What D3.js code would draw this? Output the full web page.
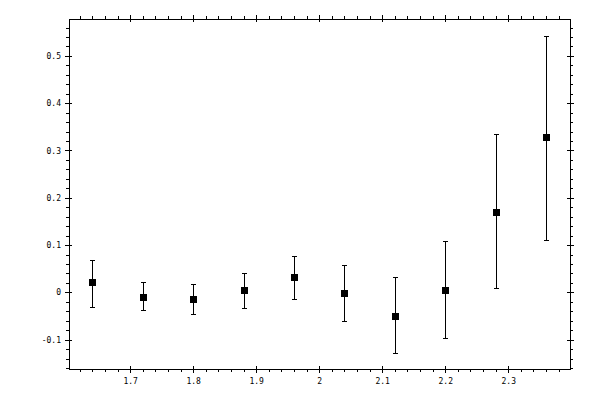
<!DOCTYPE html>
<html>
<head>
<meta charset="utf-8">
<script src="https://cdn.jsdelivr.net/npm/d3@7"></script>
<style>
  body { margin: 0; background: #fff; }
  svg { display: block; }
  .tick text { font-family: "DejaVu Sans Mono", monospace; font-size: 8px; fill: #000; }
</style>
</head>
<body>
<svg id="canvas" width="600" height="400"></svg>
<script>
// data
let xValues = [1.64, 1.72, 1.80, 1.88, 1.96, 2.04, 2.12, 2.20, 2.28, 2.36]
let yValues = [0.021, -0.009, -0.015, 0.006, 0.032, -0.002, -0.049, 0.004, 0.171, 0.328]
let yUpper  = [0.069, 0.022, 0.018, 0.041, 0.076, 0.058, 0.032, 0.108, 0.334, 0.543]
let yLower  = [-0.030, -0.038, -0.046, -0.032, -0.015, -0.061, -0.129, -0.097, 0.009, 0.110]

let xTicks = [1.7, 1.8, 1.9, 2.0, 2.1, 2.2, 2.3]
let xTickLabels = ['1.7', '1.8', '1.9', '2', '2.1', '2.2', '2.3']
let yTicks = [-0.1, 0, 0.1, 0.2, 0.3, 0.4, 0.5]
let yTickLabels = ['-0.1', '0', '0.1', '0.2', '0.3', '0.4', '0.5']

let plotLeft = 69, plotRight = 570, plotTop = 19, plotBottom = 369

let canvas = d3.select('#canvas')

let x = d3.scaleLinear().domain([1.603, 2.398]).range([plotLeft, plotRight])
let y = d3.scaleLinear().domain([-0.162, 0.578]).range([plotBottom, plotTop])

let xMinor = d3.range(81, 120).map(v => v / 50).filter(v => v > 1.603 && v < 2.398)
let yMinor = d3.range(-8, 29).map(v => v / 50).filter(v => v > -0.162 && v < 0.578)

let fmtX = d => xTickLabels[xTicks.indexOf(d)]
let fmtY = d => yTickLabels[yTicks.indexOf(d)]

let addAxis = (axis, tf) => {
  let g = canvas.append('g').attr('transform', tf).call(axis)
  g.select('.domain').remove()
  g.selectAll('line').attr('stroke', '#000').attr('shape-rendering', 'crispEdges')
  return g
}

// bottom
addAxis(d3.axisBottom(x).tickValues(xMinor).tickSize(3).tickFormat(''), `translate(0,${plotBottom})`)
addAxis(d3.axisBottom(x).tickValues(xTicks).tickSize(4).tickPadding(5).tickFormat(fmtX), `translate(0,${plotBottom})`)
addAxis(d3.axisBottom(x).tickValues(xTicks).tickSize(-3).tickFormat(''), `translate(0,${plotBottom})`)
// top
addAxis(d3.axisTop(x).tickValues(xMinor).tickSize(3).tickFormat(''), `translate(0,${plotTop})`)
addAxis(d3.axisTop(x).tickValues(xTicks).tickSize(4).tickFormat(''), `translate(0,${plotTop})`)
addAxis(d3.axisTop(x).tickValues(xTicks).tickSize(-3).tickFormat(''), `translate(0,${plotTop})`)
// left
addAxis(d3.axisLeft(y).tickValues(yMinor).tickSize(3).tickFormat(''), `translate(${plotLeft},0)`)
addAxis(d3.axisLeft(y).tickValues(yTicks).tickSize(4).tickPadding(4).tickFormat(fmtY), `translate(${plotLeft},0)`)
addAxis(d3.axisLeft(y).tickValues(yTicks).tickSize(-3).tickFormat(''), `translate(${plotLeft},0)`)
// right
addAxis(d3.axisRight(y).tickValues(yMinor).tickSize(3).tickFormat(''), `translate(${plotRight},0)`)
addAxis(d3.axisRight(y).tickValues(yTicks).tickSize(4).tickFormat(''), `translate(${plotRight},0)`)
addAxis(d3.axisRight(y).tickValues(yTicks).tickSize(-3).tickFormat(''), `translate(${plotRight},0)`)

// frame
canvas.append('rect')
  .attr('x', plotLeft + 0.5).attr('y', plotTop + 0.5)
  .attr('width', plotRight - plotLeft).attr('height', plotBottom - plotTop)
  .attr('fill', 'none').attr('stroke', '#000').attr('shape-rendering', 'crispEdges')

let points = xValues.map((v, i) => ({ x: v, y: yValues[i], hi: yUpper[i], lo: yLower[i] }))

let bars = canvas.append('g').attr('stroke', '#000').attr('shape-rendering', 'crispEdges')
bars.selectAll('.err')
  .data(points)
  .enter()
  .append('line')
  .attr('x1', d => Math.round(x(d.x)) + 0.5).attr('x2', d => Math.round(x(d.x)) + 0.5)
  .attr('y1', d => y(d.hi)).attr('y2', d => y(d.lo))
bars.selectAll('.capHi')
  .data(points)
  .enter()
  .append('line')
  .attr('x1', d => Math.round(x(d.x)) - 2).attr('x2', d => Math.round(x(d.x)) + 3)
  .attr('y1', d => Math.round(y(d.hi)) + 0.5).attr('y2', d => Math.round(y(d.hi)) + 0.5)
bars.selectAll('.capLo')
  .data(points)
  .enter()
  .append('line')
  .attr('x1', d => Math.round(x(d.x)) - 2).attr('x2', d => Math.round(x(d.x)) + 3)
  .attr('y1', d => Math.round(y(d.lo)) + 0.5).attr('y2', d => Math.round(y(d.lo)) + 0.5)

canvas.append('g').selectAll('rect')
  .data(points)
  .enter()
  .append('rect')
  .attr('x', d => Math.round(x(d.x)) - 3)
  .attr('y', d => Math.round(y(d.y)) - 3)
  .attr('width', 7).attr('height', 7)
  .attr('fill', '#000')
</script>
</body>
</html>
